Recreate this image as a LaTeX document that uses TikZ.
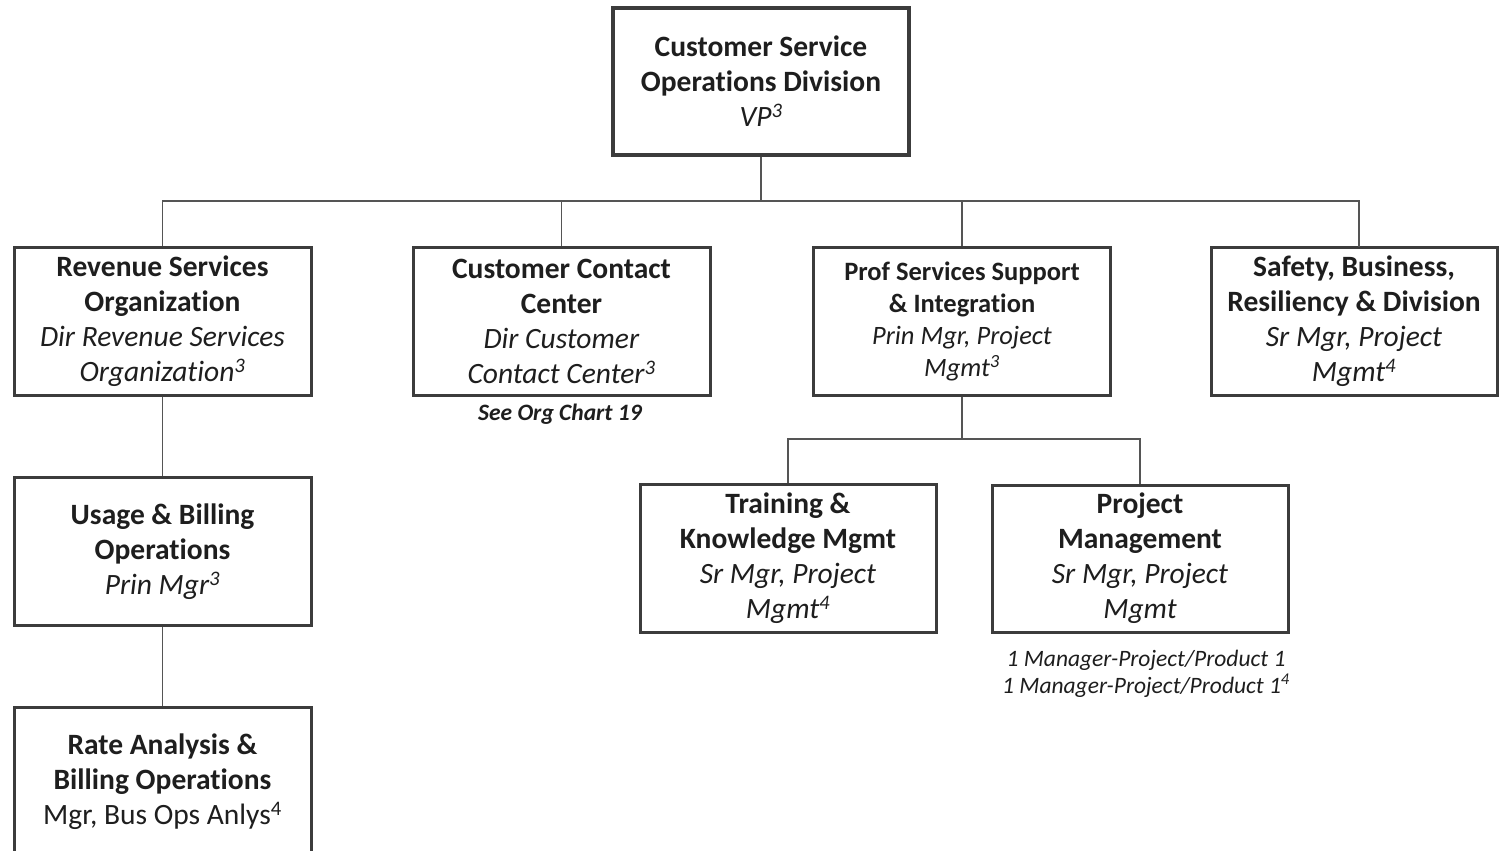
\documentclass[tikz,border=0pt]{standalone}
\usepackage{fontspec}
\setmainfont{Carlito}[Ligatures=NoCommon]
\definecolor{boxline}{HTML}{3C3C3C}
\definecolor{conn}{HTML}{555555}
\definecolor{txt}{HTML}{1E1E1E}
\begin{document}
\begin{tikzpicture}[x=1pt,y=-1pt,
  orgbox/.style={draw=boxline, line width=3pt, fill=white, minimum width=297pt, minimum height=148pt,
    inner sep=0pt, align=center, text=txt, font=\fontsize{29.5}{35}\selectfont},
  topbox/.style={orgbox, line width=4pt, minimum width=296pt, minimum height=147pt},
  smallbox/.style={orgbox, font=\fontsize{26.5}{32}\selectfont},
  link/.style={draw=conn, line width=1.5pt},
  note/.style={text=txt, align=center, inner sep=0pt}
]
\clip (0,0) rectangle (1499,851);
\fill[white] (0,0) rectangle (1499,851);

% boxes
\node[topbox] (top) at (761,81.5) {\textbf{Customer Service}\\\textbf{Operations Division}\\\textit{VP\textsuperscript{3}}};
\node[orgbox] (rev) at (162.5,321) {\textbf{Revenue Services}\\\textbf{Organization}\\\textit{Dir Revenue Services}\\\textit{Organization\textsuperscript{3}}};
\node[orgbox] (ccc) at (561.5,321) {\textbf{Customer Contact}\\\textbf{Center}\\\textit{Dir Customer}\\\textit{Contact Center\textsuperscript{3}}};
\node[smallbox] (prof) at (962,321) {\textbf{Prof Services Support}\\\textbf{\& Integration}\\\textit{Prin Mgr, Project}\\\textit{Mgmt\textsuperscript{3}}};
\node[orgbox, minimum width=286pt] (safe) at (1354,321) {\textbf{Safety, Business,}\\\textbf{Resiliency \& Division}\\\textit{Sr Mgr, Project}\\\textit{Mgmt\textsuperscript{4}}};
\node[orgbox] (use) at (162.5,551.5) {\textbf{Usage \& Billing}\\\textbf{Operations}\\\textit{Prin Mgr\textsuperscript{3}}};
\node[orgbox, minimum height=150pt] (rate) at (162.5,782) {\textbf{Rate Analysis \&}\\\textbf{Billing Operations}\\Mgr, Bus Ops Anlys\textsuperscript{4}};
\node[orgbox, minimum width=296pt] (train) at (788,558) {\textbf{Training \&}\\\textbf{Knowledge Mgmt}\\\textit{Sr Mgr, Project}\\\textit{Mgmt\textsuperscript{4}}};
\node[orgbox, minimum width=296pt, minimum height=147pt] (proj) at (1140,558.5) {\textbf{Project}\\\textbf{Management}\\\textit{Sr Mgr, Project}\\\textit{Mgmt}};

% notes
\node[note, font=\fontsize{23.5}{27}\selectfont\bfseries\itshape] (see) at (560,414) {See Org Chart 19};
\node[note, font=\fontsize{23.5}{27}\selectfont\itshape] (mgrs) at (1146,673.5) {1 Manager-Project/Product 1\\1 Manager-Project/Product 1\textsuperscript{4}};

% connectors
\coordinate (bus) at (761,201);
\coordinate (safetop) at (1359,247);
\draw[link] (top.south) -- (bus);
\draw[link] (rev.north) |- (bus);
\draw[link] (ccc.north) -- (ccc.north |- bus);
\draw[link] (prof.north) -- (prof.north |- bus);
\draw[link] (safetop) |- (bus);
\draw[link] (rev.south) -- (use.north);
\draw[link] (use.south) -- (rate.north);
\coordinate (pbus) at (962,439);
\draw[link] (prof.south) -- (pbus);
\draw[link] (train.north) |- (pbus);
\draw[link] (proj.north) |- (pbus);
\end{tikzpicture}
\end{document}
